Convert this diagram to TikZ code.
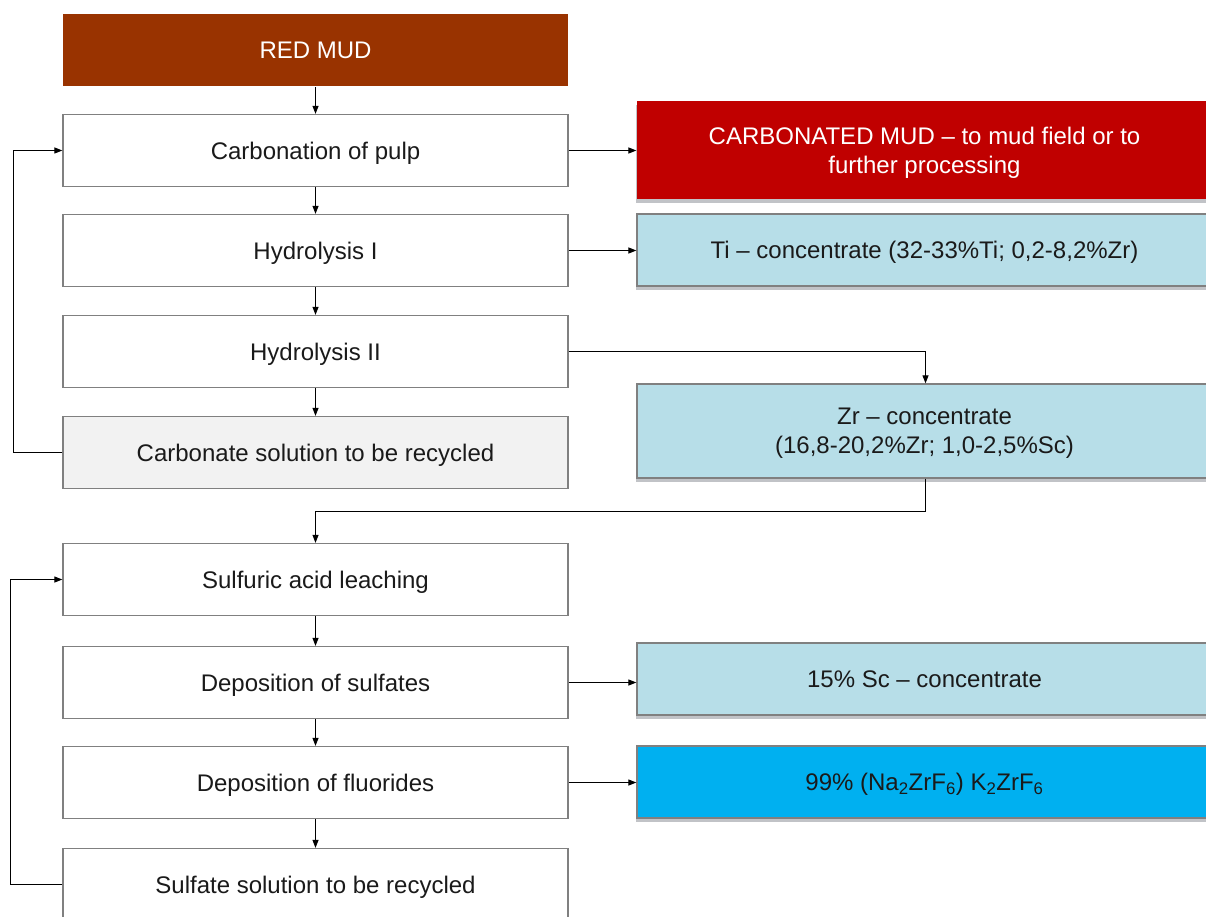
\documentclass[tikz,border=0pt]{standalone}
\usepackage{fontspec}
\setmainfont{Liberation Sans}
\usetikzlibrary{arrows.meta,shadows}
\definecolor{redmud}{HTML}{993300}
\definecolor{carbred}{HTML}{C00000}
\definecolor{lightblue}{HTML}{B7DEE8}
\definecolor{brightblue}{HTML}{00B0F0}
\definecolor{lightgray}{HTML}{F2F2F2}
\definecolor{bordergray}{HTML}{808080}
\definecolor{txtblack}{HTML}{1A1A1A}
\definecolor{shadowgray}{HTML}{505560}
\begin{document}
\begin{tikzpicture}[x=1pt,y=-1pt,
  every node/.style={font=\fontsize{24}{29}\selectfont, text=txtblack, text depth=0pt},
  lbox/.style={draw=bordergray, line width=1.3pt, fill=white, minimum width=505pt, minimum height=72pt, inner sep=0pt, align=center},
  rbox/.style={draw=bordergray, line width=1.3pt, minimum width=575pt, minimum height=72pt, inner sep=0pt, align=center,
    drop shadow={shadow xshift=-1.5pt, shadow yshift=-4pt, fill=shadowgray, opacity=0.35}},
  conn/.style={line width=1.1pt, draw=black, -{Triangle[length=8pt,width=6pt]}}
]
\clip (0,0) rectangle (1206,917);
\fill[white] (0,0) rectangle (1206,917);

% left column
\node[lbox, fill=redmud, draw=none, text=white] (rm) at (315.5,50.5) {RED MUD};
\node[lbox] (carb) at (315.5,150.5) {Carbonation of pulp};
\node[lbox] (h1) at (315.5,250.5) {Hydrolysis I};
\node[lbox] (h2) at (315.5,351.5) {Hydrolysis II};
\node[lbox, fill=lightgray] (cs) at (315.5,452.5) {Carbonate solution to be recycled};
\node[lbox] (sa) at (315.5,579.5) {Sulfuric acid leaching};
\node[lbox] (ds) at (315.5,682.5) {Deposition of sulfates};
\node[lbox] (df) at (315.5,782.5) {Deposition of fluorides};
\node[lbox] (ss) at (315.5,884.5) {Sulfate solution to be recycled};

% right column
\node[rbox, fill=carbred, draw=none, text=white, minimum height=98pt] (cm) at (924.5,150) {CARBONATED MUD – to mud field or to\\further processing};
\node[rbox, fill=lightblue] (ti) at (924.5,250) {Ti – concentrate (32-33\%Ti; 0,2-8,2\%Zr)};
\node[rbox, fill=lightblue, minimum height=94pt] (zr) at (924.5,431) {Zr – concentrate\\(16,8-20,2\%Zr; 1,0-2,5\%Sc)};
\node[rbox, fill=lightblue] (sc) at (924.5,679) {15\% Sc – concentrate};
\node[rbox, fill=brightblue] (k) at (924.5,782) {99\% (Na\textsubscript{2}ZrF\textsubscript{6}) K\textsubscript{2}ZrF\textsubscript{6}};

% vertical flow
\draw[conn] (rm) -- (carb);
\draw[conn] (carb) -- (h1);
\draw[conn] (h1) -- (h2);
\draw[conn] (h2) -- (cs);
\draw[conn] (sa) -- (ds);
\draw[conn] (ds) -- (df);
\draw[conn] (df) -- (ss);

% to the right
\draw[conn] (carb.east) -- (carb.east -| cm.west);
\draw[conn] (h1.east) -- (h1.east -| ti.west);
\draw[conn] (ds.east) -- (ds.east -| sc.west);
\draw[conn] (df.east) -- (df.east -| k.west);
\draw[conn] (h2.east) -| ([xshift=1pt]zr.north);
\draw[conn] ([xshift=1pt]zr.south) -- ++(0,32.5) -| (sa.north);

% recycle loops
\draw[conn] (cs.west) -- ++(-48.5,0) |- (carb.west);
\draw[conn] (ss.west) -- ++(-51.5,0) |- (sa.west);
\end{tikzpicture}
\end{document}
